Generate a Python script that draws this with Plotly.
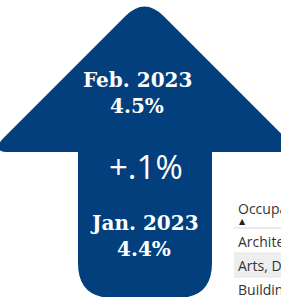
import plotly.graph_objects as go

# ---- data ----
months = ["Feb. 2023", "Jan. 2023"]
rates = [4.5, 4.4]
change_label = "+.1%"
table_header = "Occupation"
table_rows = ["Architecture and Engineering", "Arts, Design, Entertainment", "Building and Grounds"]

W, H = 281, 297
NAVY = "#023f7c"

# ---- arrow geometry (pixel space) ----
apex_x, apex_y = 144.5, -3
base_y = 152
shaft_l, shaft_r, shaft_b = 78, 212, 298
r_tip, r_corner, r_bot = 19, 15, 35
half = base_y - apex_y
lc = (apex_x - half, base_y)
rc = (apex_x + half, base_y)

def P(x, y):
    return f"{x:.1f},{y:.1f}"

path = (
    f"M {P(shaft_l, base_y)} "
    f"L {P(lc[0] + r_corner * 1.3, base_y)} "
    f"Q {P(*lc)} {P(lc[0] + r_corner, base_y - r_corner)} "
    f"L {P(apex_x - r_tip, apex_y + r_tip)} "
    f"Q {P(apex_x, apex_y)} {P(apex_x + r_tip, apex_y + r_tip)} "
    f"L {P(rc[0] - r_corner, base_y - r_corner)} "
    f"Q {P(*rc)} {P(rc[0] - r_corner * 1.3, base_y)} "
    f"L {P(shaft_r, base_y)} "
    f"L {P(shaft_r, shaft_b - r_bot)} "
    f"Q {P(shaft_r, shaft_b)} {P(shaft_r - r_bot, shaft_b)} "
    f"L {P(shaft_l + r_bot, shaft_b)} "
    f"Q {P(shaft_l, shaft_b)} {P(shaft_l, shaft_b - r_bot)} Z"
)

fig = go.Figure()
fig.add_trace(go.Scatter(x=[0, W], y=[0, H], mode="markers", marker=dict(opacity=0), hoverinfo="skip", showlegend=False))

shapes = [dict(type="path", path=path, fillcolor=NAVY, line=dict(width=0), layer="below", xref="x", yref="y")]

# table decoration
row_y0 = 229
row_h = 24
shapes.append(dict(type="line", x0=234, x1=W + 5, y0=row_y0 - 1, y1=row_y0 - 1, line=dict(color="#d6d6d6", width=1), xref="x", yref="y"))
for i, _ in enumerate(table_rows):
    y0 = row_y0 + i * row_h
    if i % 2 == 1:
        shapes.append(dict(type="rect", x0=234, x1=W + 5, y0=y0, y1=y0 + row_h, fillcolor="#eeeeee", line=dict(width=0), layer="below", xref="x", yref="y"))
    shapes.append(dict(type="line", x0=234, x1=W + 5, y0=y0 + row_h, y1=y0 + row_h, line=dict(color="#e6e6e6", width=1), xref="x", yref="y"))

ann = []
slab = dict(family="DejaVu Serif", size=20, color="white", weight="bold")
ann.append(dict(x=137, y=80, text=months[0], font=slab))
ann.append(dict(x=137, y=106, text=f"{rates[0]:.1f}%", font=slab))
ann.append(dict(x=146, y=166, text=change_label, font=dict(family="Open Sans", size=33, color="white")))
ann.append(dict(x=144, y=223, text=months[1], font=slab))
ann.append(dict(x=144, y=249, text=f"{rates[1]:.1f}%", font=slab))

tfont = dict(family="Open Sans", size=14, color="#333333")
ann.append(dict(x=236, y=208, text=table_header, font=tfont, xanchor="left"))
ann.append(dict(x=237, y=221, text="▲", font=dict(family="DejaVu Sans", size=8, color="#222222"), xanchor="left"))
for i, t in enumerate(table_rows):
    ann.append(dict(x=236, y=row_y0 + i * row_h + 12, text=t, font=tfont, xanchor="left"))

for a in ann:
    a.setdefault("xanchor", "center")
    a.update(yanchor="middle", showarrow=False, xref="x", yref="y")

fig.update_layout(
    width=W, height=H, margin=dict(l=0, r=0, t=0, b=0),
    paper_bgcolor="white", plot_bgcolor="white",
    xaxis=dict(range=[0, W], visible=False, fixedrange=True),
    yaxis=dict(range=[H, 0], visible=False, fixedrange=True),
    shapes=shapes, annotations=ann, showlegend=False,
)
fig.write_html(
    "out.html",
    config={"displayModeBar": False},
    post_script="document.body.style.margin='0';document.body.style.overflow='hidden';",
)
